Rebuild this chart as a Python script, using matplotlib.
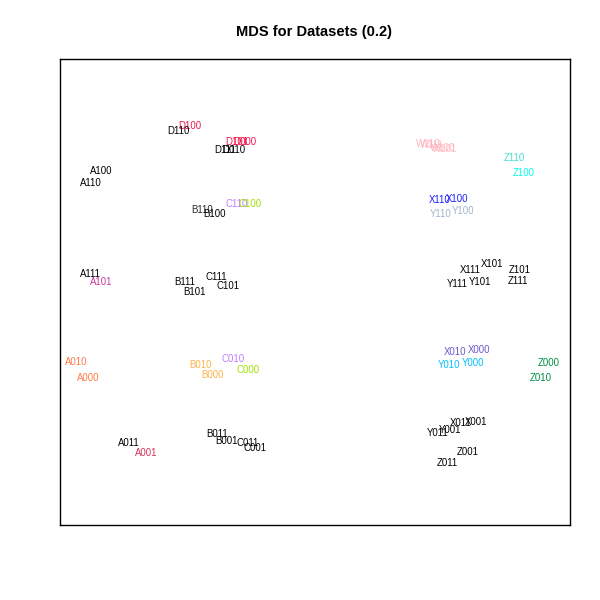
import matplotlib
matplotlib.use("Agg")
import matplotlib.pyplot as plt

# MDS coordinates of each dataset
labels = [
    "A100", "A110", "A111", "A101", "A010", "A000", "A011", "A001",
    "B110", "B100", "B111", "B101", "B010", "B000", "B011", "B001",
    "C110", "C100", "C111", "C101", "C010", "C000", "C011", "C001",
    "D100", "D110", "D101", "D000", "D111", "D010",
    "W110", "W111", "W100", "W101",
    "X110", "X100", "X111", "X101", "X010", "X000", "X011", "X001",
    "Y110", "Y100", "Y111", "Y101", "Y010", "Y000", "Y011", "Y001",
    "Z110", "Z100", "Z101", "Z111", "Z000", "Z010", "Z001", "Z011",
]
dim1 = [
    -2.14, -2.24, -2.25, -2.14, -2.39, -2.27, -1.86, -1.69,
    -1.13, -1.00, -1.30, -1.20, -1.15, -1.02, -0.98, -0.89,
    -0.78, -0.65, -0.99, -0.87, -0.82, -0.67, -0.67, -0.60,
    -1.25, -1.37, -0.78, -0.70, -0.90, -0.81,
    1.13, 1.17, 1.28, 1.30,
    1.25, 1.42, 1.55, 1.77, 1.40, 1.64, 1.46, 1.61,
    1.26, 1.48, 1.42, 1.65, 1.34, 1.58, 1.23, 1.35,
    1.99, 2.09, 2.05, 2.03, 2.34, 2.26, 1.53, 1.32,
]
dim2 = [
    1.21, 1.09, 0.18, 0.10, -0.70, -0.86, -1.51, -1.61,
    0.82, 0.78, 0.10, 0.00, -0.73, -0.83, -1.42, -1.49,
    0.88, 0.88, 0.15, 0.06, -0.67, -0.78, -1.51, -1.56,
    1.66, 1.61, 1.50, 1.50, 1.42, 1.42,
    1.48, 1.47, 1.44, 1.43,
    0.92, 0.93, 0.22, 0.28, -0.60, -0.58, -1.31, -1.30,
    0.78, 0.81, 0.08, 0.10, -0.73, -0.71, -1.41, -1.38,
    1.34, 1.19, 0.22, 0.11, -0.71, -0.86, -1.60, -1.71,
]

# text colour per dataset
label_colors = [
    "black", "black", "black", "#C8389A", "#FF7A45", "#FF7A45", "black", "#D8325E",
    "#2A2A2A", "black", "black", "black", "#FFB347", "#FFB347", "black", "black",
    "#BF7FFF", "#A0E000", "black", "black", "#BF7FFF", "#A0E000", "black", "black",
    "#F5144E", "black", "#F5144E", "#F5144E", "black", "black",
    "#FFB6C1", "#FFB6C1", "#FFB6C1", "#FFB6C1",
    "#1E1EFF", "#1E1EFF", "black", "black", "#6A5ACD", "#6A5ACD", "black", "black",
    "#A2B5CD", "#A2B5CD", "black", "black", "#00BFFF", "#00BFFF", "black", "black",
    "#40E0D0", "#00FFEE", "black", "black", "#008B45", "#008B45", "black", "black",
]

plt.rcParams["font.family"] = ["Liberation Sans", "DejaVu Sans"]

fig = plt.figure(figsize=(6, 6), dpi=100)
ax = fig.add_axes([0.1, 0.125, 0.85, 0.7767])

for lab, x, y, c in zip(labels, dim1, dim2, label_colors):
    ax.text(x, y, lab, color=c, fontsize=6.9, ha="center", va="center")

ax.set_xlim(-2.55, 2.55)
ax.set_ylim(-2.33, 2.33)
ax.set_xticks([])
ax.set_yticks([])
for s in ax.spines.values():
    s.set_color("black")
    s.set_linewidth(1.0)

fig.text(0.523, 0.947, "MDS for Datasets (0.2)", ha="center", va="center",
         fontsize=10.5, fontweight="bold")

fig.savefig("out.png", dpi=100, facecolor="white")
